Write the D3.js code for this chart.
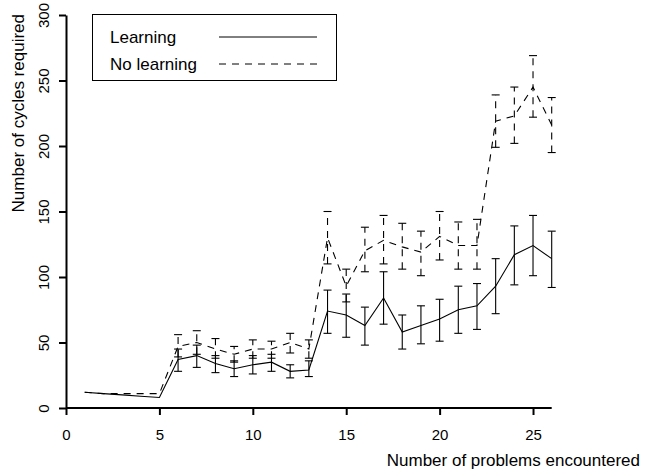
<!DOCTYPE html>
<html><head><meta charset="utf-8">
<script src="https://cdn.jsdelivr.net/npm/d3@7"></script>
<style>
html,body{margin:0;padding:0;background:#fff;}
svg{display:block;font-family:"Liberation Sans",Arial,Helvetica,sans-serif;}
</style></head>
<body>
<svg id="chart" width="649" height="471"></svg>
<script>
const problems = [1,2,3,4,5,6,7,8,9,10,11,12,13,14,15,16,17,18,19,20,21,22,23,24,25,26];
const learning = [12,11,10,9,8,37,40,34,30,33,35,28,29,74,71,63,84,58,63,68,75,78,93,117,124,114];
const learningLo = [null,null,null,null,null,28,31,27,24,26,28,23,24,57,54,48,64,45,49,51,57,60,72,94,101,92];
const learningHi = [null,null,null,null,null,45,48,40,36,40,41,33,36,90,87,77,104,71,78,83,93,95,114,139,147,135];
const noLearning = [12,11,11,11,11,47,50,45,41,45,45,50,45,130,93,120,128,123,119,131,124,124,219,223,245,216];
const noLearningLo = [null,null,null,null,null,39,41,38,35,38,38,42,38,110,81,104,110,106,101,113,106,106,199,202,222,195];
const noLearningHi = [null,null,null,null,null,56,59,53,47,52,51,57,52,150,106,138,147,141,135,150,142,144,239,245,269,237];
const xTicks = [0,5,10,15,20,25];
const yTicks = [0,50,100,150,200,250,300];
const seriesNames = ["Learning","No learning"];

const svg = d3.select("#chart");
const x = d3.scaleLinear().domain([0,26]).range([66,551.7]);
const y = d3.scaleLinear().domain([0,300]).range([408,15]);
const DASH = "7,6";

// axes
const xAxis = svg.append("g").attr("transform","translate(0,408)")
  .call(d3.axisBottom(x).tickValues(xTicks).tickSize(7).tickPadding(14).tickSizeOuter(0));
xAxis.select(".domain").attr("d", `M${x(0)},0H${x(26)}`);
const yAxis = svg.append("g").attr("transform","translate(66,0)")
  .call(d3.axisLeft(y).tickValues(yTicks).tickSize(7).tickSizeOuter(0));
[xAxis,yAxis].forEach(g=>{
  g.select(".domain").attr("stroke","#000").attr("stroke-width",2);
  g.selectAll(".tick line").attr("stroke","#000").attr("stroke-width",2);
  g.selectAll(".tick text").attr("font-size",15).attr("fill","#000").attr("font-family","Liberation Sans, Arial, sans-serif");
});
yAxis.selectAll(".tick text")
  .attr("transform", "rotate(-90, -22, 0)")
  .attr("x",-22).attr("y",0).attr("dy","0.35em").attr("text-anchor","middle");

// axis titles
svg.append("text").attr("x",640).attr("y",466).attr("text-anchor","end")
  .attr("font-size",17).text("Number of problems encountered");
svg.append("text").attr("transform","translate(24,14) rotate(-90)").attr("text-anchor","end")
  .attr("font-size",17).text("Number of cycles required");

// series
const series = [
  {vals: learning, lo: learningLo, hi: learningHi, dash: null},
  {vals: noLearning, lo: noLearningLo, hi: noLearningHi, dash: DASH}
];
const line = d3.line().x((d,i)=>x(problems[i])).y(d=>y(d));
series.forEach(s=>{
  svg.append("path").datum(s.vals).attr("d",line).attr("fill","none")
    .attr("stroke","#000").attr("stroke-width",1.1).attr("stroke-dasharray",s.dash);
  const g = svg.append("g").attr("stroke","#000").attr("stroke-width",1.1).attr("fill","none");
  problems.forEach((p,i)=>{
    if (s.lo[i]==null) return;
    const cx = x(p);
    g.append("line").attr("x1",cx).attr("x2",cx).attr("y1",y(s.lo[i])).attr("y2",y(s.hi[i])).attr("stroke-dasharray",s.dash);
    g.append("line").attr("x1",cx-4).attr("x2",cx+4).attr("y1",y(s.lo[i])).attr("y2",y(s.lo[i]));
    g.append("line").attr("x1",cx-4).attr("x2",cx+4).attr("y1",y(s.hi[i])).attr("y2",y(s.hi[i]));
  });
});

// legend
const lg = svg.append("g");
lg.append("rect").attr("x",92.5).attr("y",14.5).attr("width",244).attr("height",66)
  .attr("fill","#fff").attr("stroke","#000").attr("stroke-width",1);
seriesNames.forEach((n,i)=>{
  const yy = 37 + i*27;
  lg.append("text").attr("x",110).attr("y",yy).attr("dy","0.35em").attr("font-size",17).text(n);
  lg.append("line").attr("x1",219).attr("x2",317).attr("y1",yy).attr("y2",yy)
    .attr("stroke","#000").attr("stroke-width",1).attr("stroke-dasharray", i===1 ? DASH : null);
});
</script>
</body></html>
